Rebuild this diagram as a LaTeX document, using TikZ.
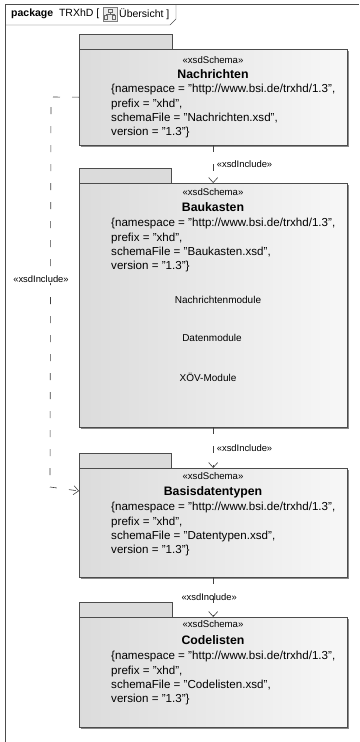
\documentclass[tikz,border=0pt]{standalone}
\usepackage{fontspec}
\setmainfont{Liberation Sans}
\usetikzlibrary{arrows.meta,shadows}

\begin{document}
\begin{tikzpicture}[x=1pt,y=-1pt,
	pkgbody/.style={draw=black!70, left color=black!14, right color=black!3,
		minimum width=268pt, anchor=north west, inner sep=0pt,
		drop shadow={shadow xshift=2pt, shadow yshift=-2pt, fill=black!45, opacity=1}},
	pkgtab/.style={draw=black!70, fill=black!14},
	stereo/.style={font=\fontsize{9.6}{11}\selectfont},
	pname/.style={font=\fontsize{12.3}{14}\selectfont\bfseries},
	attr/.style={font=\fontsize{11.6}{14.4}\selectfont, align=left, anchor=north west, inner sep=0pt},
	modtext/.style={font=\fontsize{10}{12}\selectfont},
	incl/.style={draw=black!75, semithick, dash pattern=on 7pt off 12pt,
		-{Straight Barb[length=5pt,width=9pt]}},
	inclabel/.style={font=\fontsize{9.4}{11}\selectfont}]
	
		\useasboundingbox (0,0) rectangle (359,742);
		\fill[white] (0,0) rectangle (359,742);
		
		% Frame with header tab.
		\draw[black!70] (5,742) -- (5,4) -- (359,4);
		\draw[black!70] (5,25) -- (170,25) -- (176,19) -- (176,4);
		\node[anchor=west, font=\fontsize{10.5}{12}\selectfont, inner sep=0pt] (hdrleft) at (11,14)
			{\textbf{package}\ \ TRXhD [};
		\node[anchor=west, font=\fontsize{10.5}{12}\selectfont, inner sep=0pt] (hdrright) at (119,14)
			{Übersicht ]};
		\draw[black!50, fill=black!8] (103,7) rectangle (117,21);
		\draw[black!60] (108,9) rectangle (112,12)
				(110,12) -- (110,14) (106,14) -- (114,14)
				(104.5,15) rectangle (107.5,19)
				(112.5,15) rectangle (115.5,19)
				(106,14) -- (106,15) (114,14) -- (114,15);
		
		% Package Nachrichten.
		\coordinate (nachrpos) at (79,49);
		\draw[pkgtab] (nachrpos) rectangle ++(93,-15);
		\node[pkgbody, minimum height=96pt] (nachr) at (nachrpos) {};
		\node[stereo] at (213,60) {«xsdSchema»};
		\node[pname] (nachrname) at (213,74) {Nachrichten};
		\node[attr] at (111,84) {\{namespace = "http://www.bsi.de/trxhd/1.3",\\
			prefix = "xhd",\\ schemaFile = "Nachrichten.xsd",\\ version = "1.3"\}};
		
		% Package Baukasten.
		\coordinate (baukpos) at (79,183);
		\draw[pkgtab] (baukpos) rectangle ++(92,-15);
		\node[pkgbody, minimum height=244pt] (bauk) at (baukpos) {};
		\node[stereo] at (213,192) {«xsdSchema»};
		\node[pname] (baukname) at (213,207) {Baukasten};
		\node[attr] at (111,218) {\{namespace = "http://www.bsi.de/trxhd/1.3",\\
			prefix = "xhd",\\ schemaFile = "Baukasten.xsd",\\ version = "1.3"\}};
		\node[modtext] (nachrmod) at (218,300) {Nachrichtenmodule};
		\node[modtext] (datenmod) at (212,338) {Datenmodule};
		\node[modtext] (xoevmod) at (208,377) {XÖV-Module};
		
		% Package Basisdatentypen.
		\coordinate (basispos) at (79,468);
		\draw[pkgtab] (basispos) rectangle ++(92,-15);
		\node[pkgbody, minimum height=109pt] (basis) at (basispos) {};
		\node[stereo] at (213,476) {«xsdSchema»};
		\node[pname] (basisname) at (213,492) {Basisdatentypen};
		\node[attr] at (111,502) {\{namespace = "http://www.bsi.de/trxhd/1.3",\\
			prefix = "xhd",\\ schemaFile = "Datentypen.xsd",\\ version = "1.3"\}};
		
		% Package Codelisten.
		\coordinate (codepos) at (79,617);
		\draw[pkgtab] (codepos) rectangle ++(93,-15);
		\node[pkgbody, minimum height=110pt] (code) at (codepos) {};
		\node[stereo] at (213,624) {«xsdSchema»};
		\node[pname] (codename) at (213,640) {Codelisten};
		\node[attr] at (111,651) {\{namespace = "http://www.bsi.de/trxhd/1.3",\\
			prefix = "xhd",\\ schemaFile = "Codelisten.xsd",\\ version = "1.3"\}};
		
		% Include dependencies.
		\draw[incl] (nachr.south) -- (bauk.north)
			node[midway, right, inclabel] {«xsdInclude»};
		\draw[incl] (bauk.south) -- (basis.north)
			node[midway, right, inclabel] {«xsdInclude»};
		\draw[incl] (basis.south) -- (code.north)
			node[midway, xshift=-4pt, inclabel] {«xsdInclude»};
		\draw[incl] (nachr.west) -- (51,97) -- (50,487) -- ([yshift=-23pt]basis.north west);
		\node[inclabel, fill=white, inner sep=1pt] (leftlabel) at (41,279) {«xsdInclude»};

	\end{tikzpicture}
\end{document}
